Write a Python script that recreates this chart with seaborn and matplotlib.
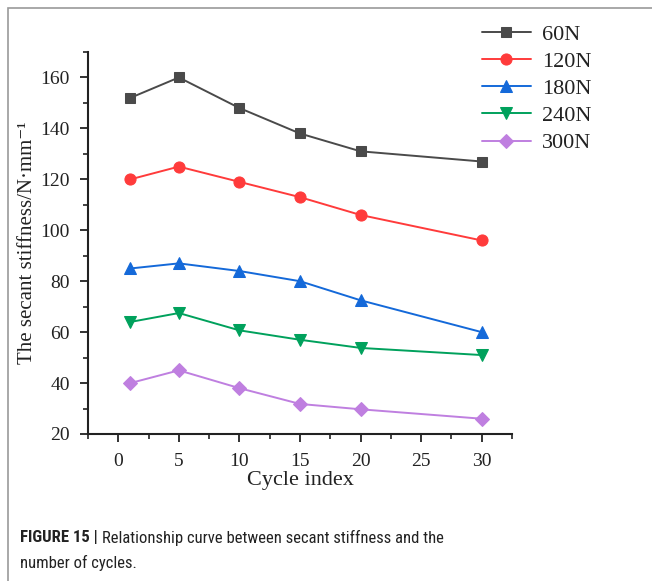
import matplotlib
matplotlib.use("Agg")
import matplotlib.pyplot as plt
import seaborn as sns
import pandas as pd
from matplotlib.patches import Rectangle
from matplotlib.ticker import MultipleLocator

cycles = [1, 5, 10, 15, 20, 30]
s60 = [152, 160, 148, 138, 131, 127]
s120 = [120, 125, 119, 113, 106, 96]
s180 = [85, 87, 84, 80, 72.5, 60]
s240 = [64, 67.5, 60.7, 57, 53.8, 51]
s300 = [40, 45, 38, 31.8, 29.7, 26]
labels = ["60N", "120N", "180N", "240N", "300N"]

series = [s60, s120, s180, s240, s300]
colors = ["#4a4a4a", "#ff3b3b", "#1469d9", "#00a15c", "#bf7fe0"]
markers = ["s", "o", "^", "v", "D"]
msizes = [7, 8, 8, 8, 7]

sns.set_theme(style="ticks")
SERIF = ["Liberation Serif", "DejaVu Serif"]
CAP = ["Roboto Condensed", "Liberation Sans", "DejaVu Sans"]
plt.rcParams["font.family"] = SERIF

fig = plt.figure(figsize=(6.52, 5.81), dpi=100)
ax = fig.add_axes([88/652, 1-434/581, (512-88)/652, (434-52)/581])

for lab, vals, c, m, ms in zip(labels, series, colors, markers, msizes):
    df = pd.DataFrame({"x": cycles, "y": vals})
    sns.lineplot(data=df, x="x", y="y", ax=ax, color=c, marker=m, markersize=ms,
                 markeredgecolor=c, linewidth=1.4, label=lab)

ax.set_xlim(-2.5, 32.5)
ax.set_ylim(20, 170)
ax.xaxis.set_major_locator(MultipleLocator(5))
ax.xaxis.set_minor_locator(MultipleLocator(2.5))
ax.yaxis.set_major_locator(MultipleLocator(20))
ax.yaxis.set_minor_locator(MultipleLocator(10))
ax.tick_params(which="major", direction="out", length=6, width=1.3, labelsize=14, colors="#222222")
ax.tick_params(axis="x", which="major", pad=8)
ax.tick_params(axis="y", which="major", pad=7)
ax.tick_params(which="minor", direction="out", length=3.5, width=1.2, colors="#222222")
for s in ["top", "right"]:
    ax.spines[s].set_visible(False)
for s in ["left", "bottom"]:
    ax.spines[s].set_linewidth(1.5)
    ax.spines[s].set_color("#222222")

ax.set_xlabel("Cycle index", fontsize=16, color="#222222")
ax.xaxis.set_label_coords(0.5, -(480 - 434) / 382)
ax.xaxis.label.set_verticalalignment("center")
ax.set_ylabel("The secant stiffness/N·mm⁻¹", fontsize=15, color="#222222")
ax.yaxis.set_label_coords(-(88 - 37) / 424, 0.5)

leg = ax.legend(loc="upper left", bbox_to_anchor=(462/652, 1-4/581), bbox_transform=fig.transFigure,
                frameon=False, fontsize=16, handlelength=2.2, labelspacing=0.3, handletextpad=0.5)
for t in leg.get_texts():
    t.set_color("#222222")

# outer border (partially visible)
fig.patches.append(Rectangle((8/652, -0.1), 1.2, 1 - 8/581 + 0.1, transform=fig.transFigure,
                             fill=False, edgecolor="#9a9a9a", linewidth=1.2))

t1 = fig.text(20/652, 1-538/581, "FIGURE 15 |", fontsize=12, fontweight="bold",
              family=CAP, va="center", ha="left", color="#222222")
fig.canvas.draw()
bb = t1.get_window_extent(renderer=fig.canvas.get_renderer())
fig.text((bb.x1 + 4) / 652, 1-538/581, "Relationship curve between secant stiffness and the",
         fontsize=12, family=CAP, va="center", ha="left", color="#222222")
fig.text(20/652, 1-563/581, "number of cycles.", fontsize=12,
         family=CAP, va="center", ha="left", color="#222222")

fig.savefig("out.png", dpi=100)
